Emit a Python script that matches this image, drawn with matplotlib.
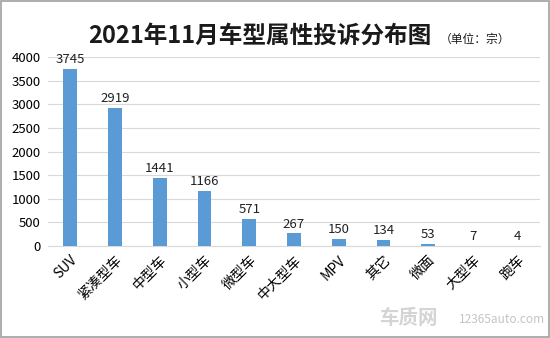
import numpy as np
import matplotlib.pyplot as plt
from matplotlib.patches import Rectangle

plt.rcParams['font.family'] = ['Noto Sans CJK SC', 'DejaVu Sans']

cats = ['SUV', '紧凑型车', '中型车', '小型车', '微型车', '中大型车', 'MPV', '其它', '微面', '大型车', '跑车']
vals = [3745, 2919, 1441, 1166, 571, 267, 150, 134, 53, 7, 4]
yticks = [0, 500, 1000, 1500, 2000, 2500, 3000, 3500, 4000]

fig = plt.figure(figsize=(5.5, 3.38), dpi=100)
ax = fig.add_axes([0.087, 0.272, 0.895, 0.559])

x = np.arange(len(cats))
ax.bar(x, vals, width=0.31, color='#5b9bd5', zorder=3)
for xi, v in zip(x, vals):
    ax.text(xi, v + 60, str(v), ha='center', va='bottom', fontsize=9.5, color='#222222')

ax.set_xlim(-0.5, len(cats) - 0.5)
ax.set_ylim(0, 4000)
ax.set_yticks(yticks)
ax.set_yticklabels([str(t) for t in yticks], fontsize=9.5)
ax.set_xticks(x)
ax.set_xticklabels(cats, rotation=45, ha='right', rotation_mode='anchor', fontsize=10)
ax.tick_params(length=0, pad=5)
ax.grid(axis='y', color='#d9d9d9', lw=0.8, zorder=0)
for s in ['top', 'right', 'left']:
    ax.spines[s].set_visible(False)
ax.spines['bottom'].set_color('#d9d9d9')

fig.text(0.16, 0.895, '2021年11月车型属性投诉分布图', ha='left', va='center',
         fontsize=17, fontweight='bold', color='#1a1a1a')
fig.text(0.80, 0.885, '（单位：宗）', ha='left', va='center', fontsize=8.5, color='#1a1a1a')

fig.text(0.69, 0.03, '车质网', fontsize=14, fontweight='bold', color='#d4d4d4', va='bottom')
fig.text(0.835, 0.035, '12365auto.com', fontsize=8.5, color='#c4c4c4', va='bottom')

fig.patches.append(Rectangle((0.001, 0.002), 0.997, 0.995, transform=fig.transFigure,
                             fill=False, edgecolor='#a0a0a0', lw=1.2))

fig.savefig('out.png', dpi=100)
